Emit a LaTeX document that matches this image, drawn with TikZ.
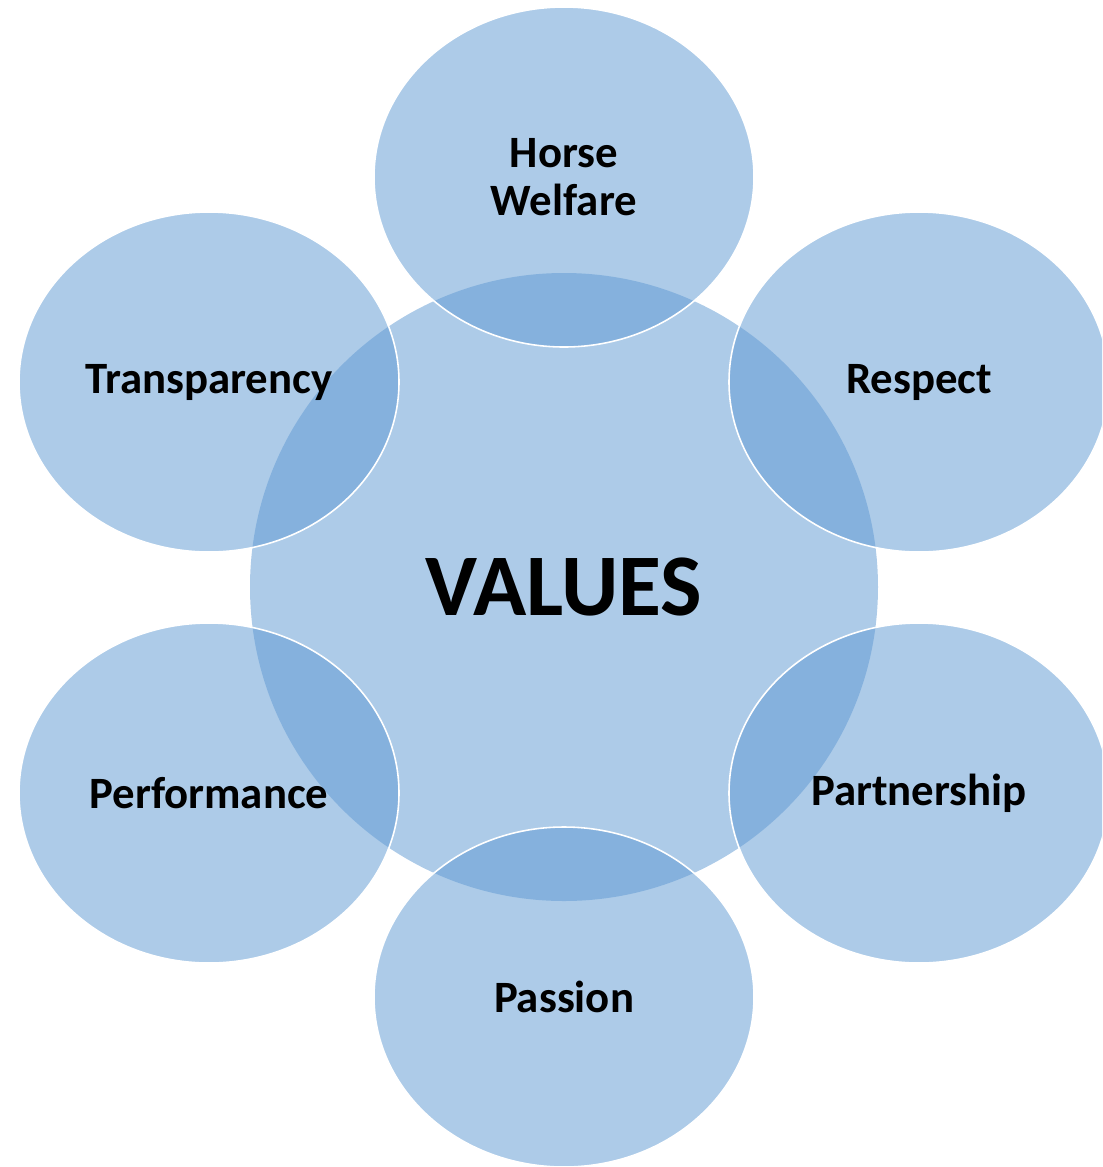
\documentclass[tikz,border=0pt]{standalone}
\usepackage{fontspec}
\setmainfont{Carlito}
\usetikzlibrary{shapes.geometric}
\pgfdeclarelayer{bg}
\pgfsetlayers{bg,main}
\definecolor{valuefill}{RGB}{173,203,232}
\definecolor{petalfill}{RGB}{97,155,211}
\tikzset{
    every node/.style={inner sep=0mm, font=\bfseries\fontsize{25.5}{27}\selectfont, align=center}
}
\tikzset{petal/.style={ellipse, draw=white, line width=0.9pt, fill=petalfill,
    fill opacity=.52, text opacity=1, minimum width=7.6cm, minimum height=6.8cm}}
\tikzset{hub/.style={circle, fill=valuefill, minimum size=12.56cm,
    font=\bfseries\fontsize{50}{52}\selectfont}}

\begin{document}
\begin{tikzpicture}
        \clip (0cm, 0cm) rectangle (22.04cm, -23.34cm);
        \begin{pgfonlayer}{bg}
                \node (v0) [hub] at (11.280000cm, -11.740000cm) {VALUES};
        \end{pgfonlayer}
        \node (v1) [petal] at (11.280000cm, -3.540000cm) {Horse\\Welfare};
        \node (v2) [petal] at (18.380000cm, -7.640000cm) {Respect};
        \node (v3) [petal] at (18.380000cm, -15.860000cm) {Partnership};
        \node (v4) [petal] at (11.280000cm, -19.940000cm) {Passion};
        \node (v5) [petal] at (4.180000cm, -15.860000cm) {Performance};
        \node (v6) [petal] at (4.180000cm, -7.640000cm) {Transparency};
\end{tikzpicture}
\end{document}
